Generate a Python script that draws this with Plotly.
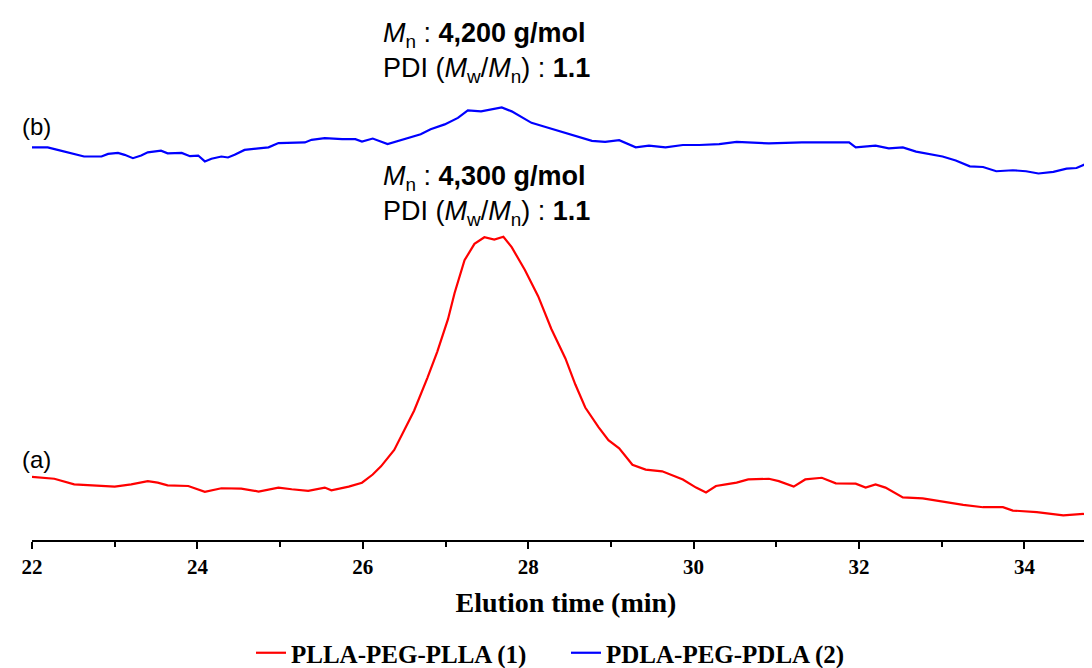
import plotly.graph_objects as go

# Elution time (min) and detector signal (arbitrary units)
time_a = [22.00, 22.27, 22.51, 22.76, 23.00, 23.20, 23.40, 23.52, 23.64, 23.89,
          24.09, 24.29, 24.53, 24.74, 24.98, 25.14, 25.34, 25.54, 25.62, 25.83,
          25.99, 26.12, 26.22, 26.38, 26.50, 26.62, 26.78, 26.90, 27.03, 27.11,
          27.23, 27.35, 27.47, 27.59, 27.70, 27.80, 27.96, 28.12, 28.28, 28.45,
          28.57, 28.69, 28.85, 28.97, 29.10, 29.26, 29.42, 29.62, 29.87, 30.03,
          30.15, 30.27, 30.39, 30.52, 30.66, 30.91, 31.03, 31.21, 31.35, 31.55,
          31.72, 31.96, 32.08, 32.20, 32.32, 32.53, 32.77, 33.01, 33.26, 33.50,
          33.74, 33.86, 34.15, 34.47, 34.71, 34.92]
signal_a = [64.4, 62.4, 56.7, 55.7, 54.4, 56.7, 60.0, 58.4, 55.7, 55.0,
            49.0, 52.7, 52.4, 49.4, 53.4, 51.7, 50.0, 53.4, 50.7, 54.4,
            58.4, 66.7, 75.0, 91.7, 111.7, 131.7, 165.0, 191.7, 225.0, 251.7,
            285.0, 301.7, 308.4, 306.0, 309.0, 298.4, 275.0, 248.4, 215.0, 185.0,
            158.4, 135.0, 115.0, 101.7, 93.4, 76.7, 71.7, 70.0, 61.7, 53.4,
            48.4, 55.0, 56.7, 58.4, 61.7, 62.4, 60.0, 54.4, 61.7, 63.4,
            57.7, 57.4, 53.4, 56.7, 53.4, 43.4, 42.4, 39.0, 35.7, 33.4,
            33.4, 30.0, 28.4, 25.0, 26.7, 21.7]

time_b = [22.00, 22.19, 22.31, 22.43, 22.63, 22.84, 22.92, 23.04, 23.12, 23.22,
          23.32, 23.40, 23.56, 23.64, 23.81, 23.91, 24.01, 24.09, 24.17, 24.29,
          24.37, 24.45, 24.57, 24.74, 24.86, 24.98, 25.14, 25.30, 25.38, 25.54,
          25.75, 25.91, 25.99, 26.12, 26.30, 26.50, 26.70, 26.82, 26.99, 27.15,
          27.27, 27.43, 27.55, 27.68, 27.80, 27.92, 28.04, 28.20, 28.37, 28.53,
          28.65, 28.77, 28.93, 29.10, 29.30, 29.46, 29.66, 29.87, 30.07, 30.31,
          30.52, 30.91, 31.31, 31.72, 31.88, 31.96, 32.20, 32.36, 32.53, 32.69,
          32.85, 33.01, 33.17, 33.34, 33.50, 33.66, 33.86, 34.02, 34.17, 34.35,
          34.51, 34.63, 34.75, 34.92]
signal_b = [400.0, 400.0, 397.4, 395.0, 390.7, 390.7, 393.4, 394.4, 392.4, 389.0,
            391.7, 395.0, 396.7, 394.0, 394.4, 391.0, 391.7, 385.7, 388.4, 390.7,
            389.7, 392.4, 397.4, 399.0, 400.0, 404.4, 404.4, 405.0, 407.7, 409.4,
            408.4, 408.4, 406.0, 409.0, 403.4, 408.4, 413.4, 418.4, 423.4, 430.0,
            437.7, 436.7, 438.4, 440.7, 436.7, 431.0, 425.0, 421.0, 416.7, 413.4,
            410.0, 406.7, 405.7, 407.4, 400.0, 401.7, 400.0, 402.4, 402.4, 403.4,
            405.7, 404.0, 405.0, 405.0, 405.0, 400.0, 401.7, 399.0, 400.0, 395.7,
            393.4, 390.7, 386.7, 380.7, 380.0, 375.7, 376.7, 375.7, 373.4, 375.0,
            378.4, 379.0, 383.4, 383.4]

series_names = ["PLLA-PEG-PLLA (1)", "PDLA-PEG-PDLA (2)"]
series_colors = ["#FF0000", "#0000FF"]
tick_values = [22, 24, 26, 28, 30, 32, 34]
tick_labels = ["22", "24", "26", "28", "30", "32", "34"]
x_title = "Elution time (min)"

ann_b = "<i>M</i><sub>n</sub> : <b>4,200 g/mol</b><br>PDI (<i>M</i><sub>w</sub>/<i>M</i><sub>n</sub>) : <b>1.1</b>"
ann_a = "<i>M</i><sub>n</sub> : <b>4,300 g/mol</b><br>PDI (<i>M</i><sub>w</sub>/<i>M</i><sub>n</sub>) : <b>1.1</b>"

fig = go.Figure()
fig.add_trace(go.Scatter(x=time_a, y=signal_a, mode="lines", name=series_names[0],
                         line=dict(color=series_colors[0], width=2.2)))
fig.add_trace(go.Scatter(x=time_b, y=signal_b, mode="lines", name=series_names[1],
                         line=dict(color=series_colors[1], width=2.2)))

sans = "Liberation Sans, Arial, sans-serif"
serif = "Liberation Serif, Times New Roman, serif"

fig.add_annotation(x=22.05, y=82, xref="x", yref="y", text="(a)", showarrow=False,
                   font=dict(family=sans, size=24, color="black"), xanchor="center", yanchor="middle")
fig.add_annotation(x=22.05, y=421, xref="x", yref="y", text="(b)", showarrow=False,
                   font=dict(family=sans, size=24, color="black"), xanchor="center", yanchor="middle")
fig.add_annotation(x=27.49, y=351, xref="x", yref="y", text=ann_a, showarrow=False,
                   font=dict(family=sans, size=27, color="black"), xanchor="center", yanchor="middle", align="left")
fig.add_annotation(x=27.49, y=497, xref="x", yref="y", text=ann_b, showarrow=False,
                   font=dict(family=sans, size=27, color="black"), xanchor="center", yanchor="middle", align="left")

fig.update_layout(
    width=1092, height=668,
    margin=dict(l=24, r=0, t=0, b=126, pad=0),
    paper_bgcolor="white", plot_bgcolor="white",
    showlegend=True,
    legend=dict(orientation="h", x=0.5, xanchor="center", y=-0.17, yanchor="top",
                font=dict(family=serif, size=25, color="black", weight="bold"),
                itemwidth=30, traceorder="normal", entrywidth=270, entrywidthmode="pixels"),
    xaxis=dict(range=[22, 34.914], showgrid=False, zeroline=False,
               showline=True, linecolor="black", linewidth=2,
               ticks="outside", ticklen=7, tickwidth=2, tickcolor="black",
               tickvals=tick_values, ticktext=tick_labels,
               tickfont=dict(family=serif, size=21, color="black", weight="bold"),
               minor=dict(ticks="outside", ticklen=5, tickwidth=2, tickcolor="black", dtick=1, tick0=22),
               title=dict(text=x_title, standoff=14,
                          font=dict(family=serif, size=28, color="black", weight="bold"))),
    yaxis=dict(visible=False, range=[0, 542], fixedrange=True),
)

fig.write_html("out.html")
